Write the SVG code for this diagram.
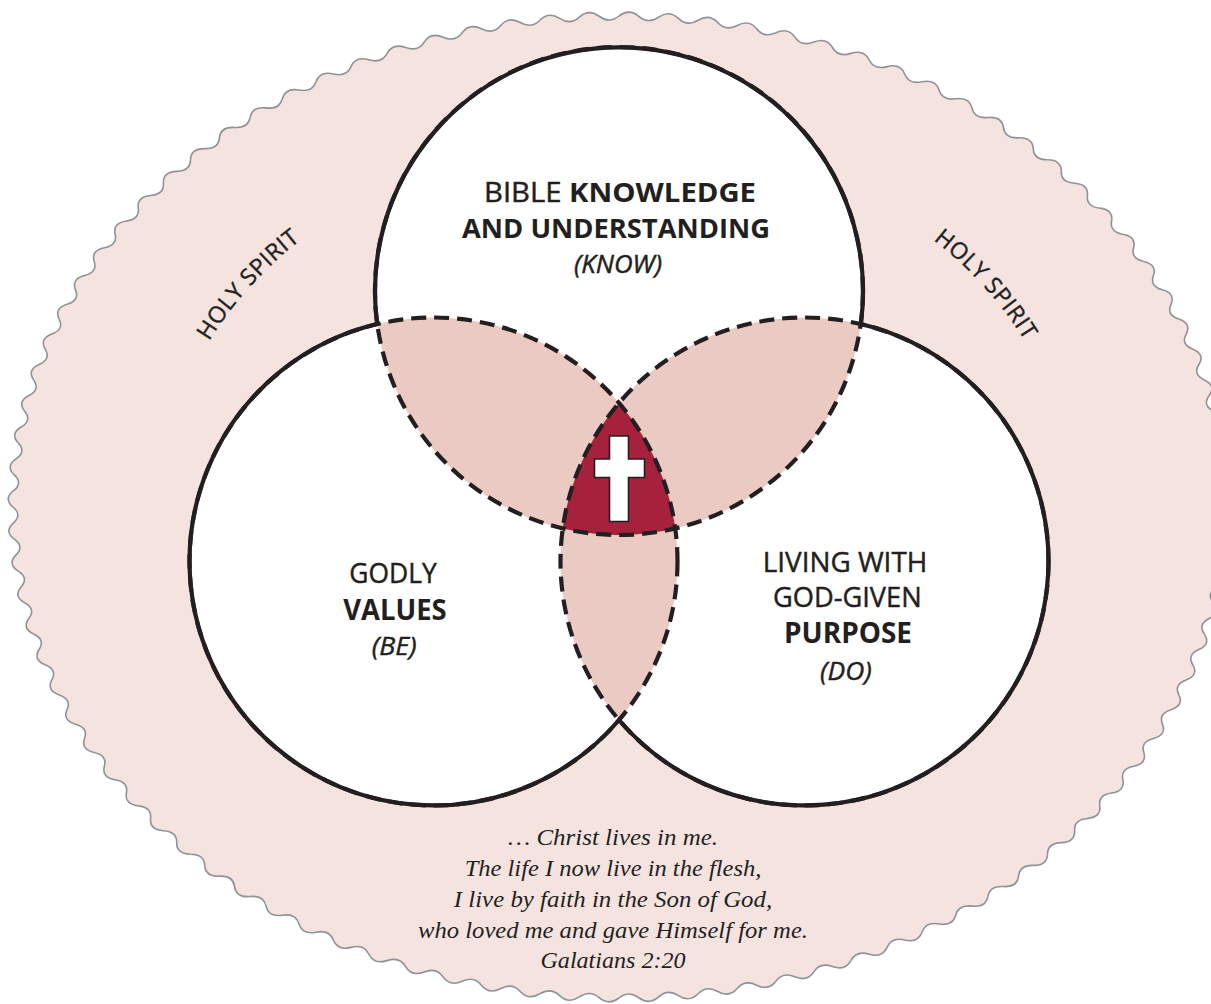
<svg xmlns="http://www.w3.org/2000/svg" xmlns:xlink="http://www.w3.org/1999/xlink" width="1211" height="1004" viewBox="0 0 1211 1004">
<defs>
<style>
.lbl{font-family:"Open Sans","Noto Sans","DejaVu Sans",sans-serif;fill:#231f20;}
.r{stroke:#231f20;stroke-width:0.45px}
.b{font-weight:700}
.it{font-style:italic}
.hs{font-family:"Open Sans","Noto Sans",sans-serif;font-size:23px;fill:#231f20;stroke:#231f20;stroke-width:0.4px;letter-spacing:0.5px}
.quote{font-family:"Liberation Serif","Times New Roman",serif;font-style:italic;font-size:24px;fill:#231f20;text-anchor:middle}
.ring{fill:none;stroke:#231f20;stroke-width:4.2}
.dash{stroke-dasharray:15 8}
.lens{fill:#ebcac4}
</style>
<path id="wave" vector-effect="non-scaling-stroke" d="M500,0 Q507.999,8.313 499.732,16.359 Q491.474,24.144 498.929,32.702 Q506.368,41.520 497.592,49.009 Q488.843,56.237 495.722,65.263"/>
<path id="wedge" d="M0,0 L500,0 Q507.999,8.313 499.732,16.359 Q491.474,24.144 498.929,32.702 Q506.368,41.520 497.592,49.009 Q488.843,56.237 495.722,65.263 Z"/>
<g id="f2"><use href="#wedge"/><use href="#wedge" transform="rotate(3.75)"/></g>
<g id="f4"><use href="#f2"/><use href="#f2" transform="rotate(7.5)"/></g>
<g id="f8"><use href="#f4"/><use href="#f4" transform="rotate(15)"/></g>
<g id="f16"><use href="#f8"/><use href="#f8" transform="rotate(30)"/></g>
<g id="f32"><use href="#f16"/><use href="#f16" transform="rotate(60)"/></g>
<g id="s2"><use href="#wave"/><use href="#wave" transform="rotate(7.5)"/></g>
<g id="s4"><use href="#s2"/><use href="#s2" transform="rotate(15)"/></g>
<g id="s8"><use href="#s4"/><use href="#s4" transform="rotate(30)"/></g>
<g id="s16"><use href="#s8"/><use href="#s8" transform="rotate(60)"/></g>
<clipPath id="cT"><circle cx="619" cy="291" r="244"/></clipPath>
<clipPath id="cL"><circle cx="433.5" cy="561.5" r="244"/></clipPath>
<clipPath id="cR"><circle cx="804.5" cy="561.5" r="244"/></clipPath>
<path id="hsArc" d="M161,507 A456,371 0 0 1 1073,507" fill="none"/>
</defs>

<rect width="1211" height="1004" fill="#ffffff"/>

<g id="holy-spirit-field">
  <g transform="translate(619,507) scale(1.212,0.982)">
    <g fill="#f5e3e0" stroke="none">
      <use href="#f32"/><use href="#f32" transform="rotate(120)"/><use href="#f32" transform="rotate(240)"/>
    </g>
    <g fill="none" stroke="#8f9296" stroke-width="1.6">
      <use href="#s16"/><use href="#s16" transform="rotate(120)"/><use href="#s16" transform="rotate(240)"/>
    </g>
  </g>
  <text class="hs"><textPath href="#hsArc" startOffset="18.7%" text-anchor="middle">HOLY SPIRIT</textPath></text>
  <text class="hs"><textPath href="#hsArc" startOffset="81.3%" text-anchor="middle">HOLY SPIRIT</textPath></text>
</g>

<g id="circle-fills" fill="#ffffff">
  <circle cx="619" cy="291" r="244"/>
  <circle cx="433.5" cy="561.5" r="244"/>
  <circle cx="804.5" cy="561.5" r="244"/>
</g>

<g id="overlaps">
  <g clip-path="url(#cT)">
    <circle class="lens" cx="433.5" cy="561.5" r="244"/>
    <circle class="lens" cx="804.5" cy="561.5" r="244"/>
  </g>
  <g clip-path="url(#cL)">
    <circle class="lens" cx="804.5" cy="561.5" r="244"/>
  </g>
  <g id="center" clip-path="url(#cT)">
    <g clip-path="url(#cL)">
      <circle cx="804.5" cy="561.5" r="244" fill="#a6223c"/>
    </g>
  </g>
  <path id="cross" d="M609.5,436 H628.5 V459 H644.5 V477.5 H628.5 V521.5 H609.5 V477.5 H594.5 V459 H609.5 Z" fill="#ffffff" stroke="#231f20" stroke-width="1.6"/>
</g>

<g id="connectors">
  <g class="ring dash">
    <circle cx="619" cy="291" r="244"/>
    <circle cx="433.5" cy="561.5" r="244"/>
    <circle cx="804.5" cy="561.5" r="244"/>
  </g>
  <path class="ring" d="M377.2,324 A244,244 0 1 1 860.8,324 A244,244 0 1 1 619,720 A244,244 0 1 1 377.2,324 Z"/>
</g>

<g id="node-know">
  <text class="lbl" font-size="27" x="484" y="201.5" textLength="272" lengthAdjust="spacingAndGlyphs"><tspan class="r">BIBLE </tspan><tspan class="b">KNOWLEDGE</tspan></text>
  <text class="lbl b" font-size="27" x="462" y="238.3" textLength="308" lengthAdjust="spacingAndGlyphs">AND UNDERSTANDING</text>
  <text class="lbl it r" font-size="25" x="574" y="273" textLength="88" lengthAdjust="spacingAndGlyphs">(KNOW)</text>
</g>

<g id="node-be">
  <text class="lbl r" font-size="28" x="349.3" y="583.3" textLength="87.4" lengthAdjust="spacingAndGlyphs">GODLY</text>
  <text class="lbl b" font-size="28" x="343.3" y="620" textLength="103.4" lengthAdjust="spacingAndGlyphs">VALUES</text>
  <text class="lbl it r" font-size="25" x="371.7" y="655" textLength="45" lengthAdjust="spacingAndGlyphs">(BE)</text>
</g>

<g id="node-do">
  <text class="lbl r" font-size="28" x="762.7" y="572" textLength="164.6" lengthAdjust="spacingAndGlyphs">LIVING WITH</text>
  <text class="lbl r" font-size="28" x="773" y="607" textLength="148.7" lengthAdjust="spacingAndGlyphs">GOD-GIVEN</text>
  <text class="lbl b" font-size="28" x="784" y="643" textLength="128" lengthAdjust="spacingAndGlyphs">PURPOSE</text>
  <text class="lbl it r" font-size="25" x="820" y="680" textLength="51.7" lengthAdjust="spacingAndGlyphs">(DO)</text>
</g>

<g id="scripture">
  <text class="quote" x="613" y="845" textLength="210" lengthAdjust="spacingAndGlyphs">… Christ lives in me.</text>
  <text class="quote" x="613" y="875.5" textLength="296.7" lengthAdjust="spacingAndGlyphs">The life I now live in the flesh,</text>
  <text class="quote" x="613" y="906.5" textLength="318.4" lengthAdjust="spacingAndGlyphs">I live by faith in the Son of God,</text>
  <text class="quote" x="613" y="937.5" textLength="390" lengthAdjust="spacingAndGlyphs">who loved me and gave Himself for me.</text>
  <text class="quote" x="613" y="968" textLength="145" lengthAdjust="spacingAndGlyphs">Galatians 2:20</text>
</g>
</svg>
